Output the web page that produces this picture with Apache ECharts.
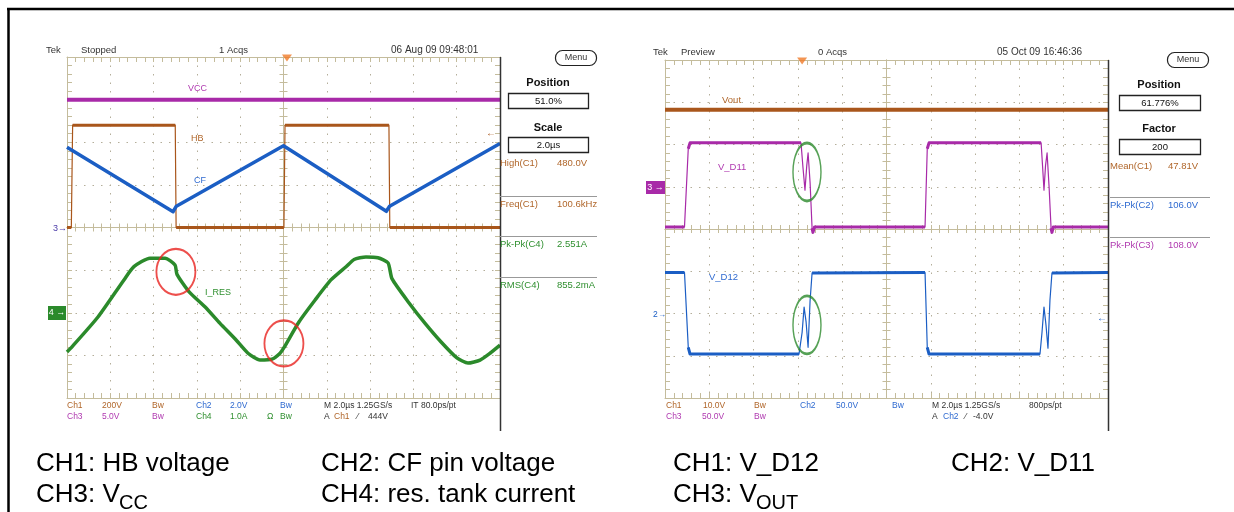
<!DOCTYPE html>
<html>
<head>
<meta charset="utf-8">
<script src="https://cdn.jsdelivr.net/npm/echarts@6.0.0/dist/echarts.min.js"></script>
<style>
html,body{margin:0;padding:0;background:#ffffff;}
#chart{width:1234px;height:512px;}
</style>
</head>
<body>
<div id="chart"></div>
<script>
// ===== Data: time in µs relative to screen centre (2 µs/div), amplitude in divisions =====
// ---- Left scope: HB, CF, VCC, I_RES ----
const vccTrace  = [[-10, 3.0], [10, 3.0]];
const hbTrace   = [[-10, 0], [-9.8, 0], [-9.74, 2.4], [-5.0, 2.4], [-4.96, 0], [0.02, 0], [0.07, 2.4], [4.87, 2.4], [4.91, 0], [10, 0]];
const cfTrace   = [[-10, 1.88], [-5.1, 0.37], [-4.95, 0.5], [0.0, 1.92], [4.75, 0.38], [4.9, 0.5], [10, 1.97]];
const iresTrace = [[-10, -2.92], [-9.77, -2.8], [-8.57, -2.1], [-7.37, -1.23], [-6.91, -0.92], [-6.17, -0.72], [-5.47, -0.72],
                   [-5.01, -0.88], [-4.92, -1.1], [-4.36, -1.51], [-3.63, -1.86], [-2.93, -2.25], [-2.19, -2.64], [-1.64, -2.95],
                   [-1.09, -3.11], [-0.53, -3.09], [-0.16, -2.95], [0.02, -2.82], [0.72, -2.21], [1.46, -1.7], [2.19, -1.23],
                   [2.89, -0.92], [3.26, -0.75], [3.81, -0.69], [4.36, -0.71], [4.83, -0.83], [5.01, -1.2], [5.8, -1.77],
                   [6.54, -2.25], [7.27, -2.68], [8.01, -3.06], [8.52, -3.18], [9.08, -3.11], [9.54, -2.95], [10, -2.76]];
const leftCircles = [[-4.97, -1.04], [0.02, -2.72]];
const leftTrigger = [[0.16, 4]];

// ---- Right scope: Vout, V_D11, V_D12 ----
const voutTrace = [[-10, 2.82], [10, 2.82]];
const vd11Trace = [[-10, 0.05], [-9.12, 0.05], [-8.95, 1.9], [-8.87, 2.04], [-3.86, 2.04], [-3.77, 1.45], [-3.68, 0.92], [-3.6, 1.5],
                   [-3.54, 1.8], [-3.45, 1.1], [-3.36, 0.02], [-3.32, -0.08], [-3.25, 0.05], [1.74, 0.05], [1.84, 1.9], [1.92, 2.04],
                   [6.98, 2.04], [7.05, 1.45], [7.11, 0.92], [7.18, 1.5], [7.25, 1.8], [7.34, 1.0], [7.43, 0.02], [7.47, -0.08],
                   [7.53, 0.05], [10, 0.05]];
const vd12Trace = [[-10, -1.03], [-9.12, -1.03], [-8.95, -2.8], [-8.87, -2.96], [-3.95, -2.96], [-3.81, -2.45], [-3.72, -1.85],
                   [-3.63, -2.2], [-3.54, -2.8], [-3.45, -1.7], [-3.36, -1.04], [1.74, -1.03], [1.84, -2.8], [1.92, -2.96],
                   [6.93, -2.96], [7.02, -2.45], [7.11, -1.85], [7.2, -2.27], [7.29, -2.82], [7.38, -1.68], [7.47, -1.04], [10, -1.03]];
const rightCircles = [[-3.59, 1.35], [-3.59, -2.27]];
const rightTrigger = [[-3.81, 4]];

// ---- Texts ----
const leftHeader  = ['Tek', 'Stopped', '1 Acqs', '06 Aug 09 09:48:01'];
const rightHeader = ['Tek', 'Preview', '0 Acqs', '05 Oct 09 16:46:36'];
const leftMeas  = [['High(C1)', '480.0V'], ['Freq(C1)', '100.6kHz'], ['Pk-Pk(C4)', '2.551A'], ['RMS(C4)', '855.2mA']];
const rightMeas = [['Mean(C1)', '47.81V'], ['Pk-Pk(C2)', '106.0V'], ['Pk-Pk(C3)', '108.0V']];

// ===== Styling =====
const FONT = 'Liberation Sans, Arial, sans-serif';
const GRAT = '#c4bc9c', DOT = '#b4ae9a';
const C_BROWN = '#a9561b', C_BLUE = '#1b5ec4', C_MAG = '#a82aa8', C_GREEN = '#2b8a2b';
const T_BROWN = '#b0662a', T_BLUE = '#2f6ad0', T_MAG = '#b03ab0', T_GREEN = '#2f8f2f', T_DARK = '#333333';

function flatParts(pts, maxSlope) {
  const out = [pts[0]];
  for (let i = 1; i < pts.length; i++) {
    const a = pts[i - 1], b = pts[i];
    const s = Math.abs(b[1] - a[1]) / Math.max(b[0] - a[0], 1e-9);
    if (s > maxSlope) out.push([(a[0] + b[0]) / 2, '-']);
    out.push(b);
  }
  return out;
}

function borderX(gi, pos, split) {
  return { gridIndex: gi, type: 'value', min: -10, max: 10, interval: 2, position: pos,
    axisLine: { show: true, onZero: false, lineStyle: { color: GRAT, width: 1 } },
    axisTick: { show: true, inside: true, length: 5, lineStyle: { color: GRAT } },
    minorTick: { show: true, splitNumber: 5, length: 5, lineStyle: { color: GRAT } },
    axisLabel: { show: false },
    splitLine: { show: split, lineStyle: { color: DOT, type: [1.5, 7], width: 1 } },
    minorSplitLine: { show: false } };
}
function centerX(gi, inside) {
  return { gridIndex: gi, type: 'value', min: -10, max: 10, interval: 2, position: 'bottom',
    axisLine: { show: true, onZero: true, lineStyle: { color: GRAT, width: 1 } },
    axisTick: { show: true, inside: inside, length: 4, lineStyle: { color: GRAT } },
    minorTick: { show: true, splitNumber: 5, length: 4, lineStyle: { color: GRAT } },
    axisLabel: { show: false }, splitLine: { show: false } };
}
function borderY(gi, pos, split) {
  return { gridIndex: gi, type: 'value', min: -4, max: 4, interval: 1, position: pos,
    axisLine: { show: true, onZero: false, lineStyle: { color: GRAT, width: 1 } },
    axisTick: { show: true, inside: true, length: 5, lineStyle: { color: GRAT } },
    minorTick: { show: true, splitNumber: 5, length: 5, lineStyle: { color: GRAT } },
    axisLabel: { show: false },
    splitLine: { show: split, lineStyle: { color: DOT, type: [1.5, 7], width: 1 } },
    minorSplitLine: { show: false } };
}
function centerY(gi, inside) {
  return { gridIndex: gi, type: 'value', min: -4, max: 4, interval: 1, position: 'left',
    axisLine: { show: true, onZero: true, lineStyle: { color: GRAT, width: 1 } },
    axisTick: { show: true, inside: inside, length: 4, lineStyle: { color: GRAT } },
    minorTick: { show: true, splitNumber: 5, length: 4, lineStyle: { color: GRAT } },
    axisLabel: { show: false }, splitLine: { show: false } };
}

function line(xi, data, color, width, z) {
  return { type: 'line', xAxisIndex: xi, yAxisIndex: xi, data: data, symbol: 'none', showSymbol: false,
    lineStyle: { color: color, width: width, join: 'round' }, z: z || 3, silent: true, connectNulls: false };
}
function smoothLine(xi, data, color, width) {
  const s = line(xi, data, color, width);
  s.smooth = 0.2;
  return s;
}
function ellipses(xi, data, color, size) {
  return { type: 'scatter', xAxisIndex: xi, yAxisIndex: xi, data: data, symbol: 'circle', symbolSize: size,
    itemStyle: { color: 'rgba(0,0,0,0)', borderColor: color, borderWidth: 2 }, z: 6, silent: true, clip: false };
}
function trig(xi, data) {
  return { type: 'scatter', xAxisIndex: xi, yAxisIndex: xi, data: data, symbol: 'triangle', symbolRotate: 180,
    symbolSize: [10, 7], symbolOffset: [0, 1], itemStyle: { color: '#f07a28' }, z: 6, silent: true, clip: false };
}

// ===== graphic helpers =====
function T(x, y, s, color, size, opt) {
  opt = opt || {};
  return { type: 'text', x: x, y: y, silent: true, z: 10,
    style: { text: s, fill: color, fontSize: size, fontFamily: FONT, fontWeight: opt.bold ? 'bold' : 'normal',
      align: opt.align || 'left', verticalAlign: 'middle', textAlign: opt.align || 'left', textVerticalAlign: 'middle' } };
}
function R(x, y, w, h, stroke, fill, lw, r) {
  return { type: 'rect', silent: true, z: 9, shape: { x: x, y: y, width: w, height: h, r: r || 0 },
    style: { stroke: stroke, fill: fill, lineWidth: lw } };
}
function L(x1, y1, x2, y2, stroke, lw) {
  return { type: 'line', silent: true, z: 9, shape: { x1: x1, y1: y1, x2: x2, y2: y2 }, style: { stroke: stroke, lineWidth: lw } };
}

const G = [];
// frame
G.push(L(7, 9, 1234, 9, '#000', 2.5));
G.push(L(8.5, 8, 8.5, 512, '#000', 2.5));
// scope right borders
G.push(L(500.5, 57, 500.5, 431, '#333', 1.5));
G.push(L(1108.5, 60, 1108.5, 431, '#333', 1.5));

// --- left scope header
G.push(T(46, 50, leftHeader[0], T_DARK, 9.5));
G.push(T(81, 50, leftHeader[1], T_DARK, 9.5));
G.push(T(219, 50, leftHeader[2], T_DARK, 9.5));
G.push(T(391, 50, leftHeader[3], T_DARK, 10));
// --- right scope header
G.push(T(653, 52, rightHeader[0], T_DARK, 9.5));
G.push(T(681, 52, rightHeader[1], T_DARK, 9.5));
G.push(T(818, 52, rightHeader[2], T_DARK, 9.5));
G.push(T(997, 52, rightHeader[3], T_DARK, 10));

// --- left side panel
G.push(R(555.5, 50.5, 41, 15, '#222', '#fff', 1.2, 7));
G.push(T(576, 58, 'Menu', T_DARK, 9, { align: 'center' }));
G.push(T(548, 83, 'Position', '#111', 11, { bold: true, align: 'center' }));
G.push(R(508.5, 93.5, 80, 15, '#222', '#fff', 1.3));
G.push(T(548.5, 101, '51.0%', '#111', 9.5, { align: 'center' }));
G.push(T(548, 128, 'Scale', '#111', 11, { bold: true, align: 'center' }));
G.push(R(508.5, 137.5, 80, 15, '#222', '#fff', 1.3));
G.push(T(548.5, 145, '2.0µs', '#111', 9.5, { align: 'center' }));
const lmY = [163, 204, 244, 285], lmC = [T_BROWN, T_BROWN, T_GREEN, T_GREEN];
leftMeas.forEach(function (m, i) {
  G.push(T(500, lmY[i], m[0], lmC[i], 9.5));
  G.push(T(557, lmY[i], m[1], lmC[i], 9.5));
});
[196.5, 236.5, 277.5].forEach(function (y) { G.push(L(500, y, 597, y, '#999', 1)); });

// --- right side panel
G.push(R(1167.5, 52.5, 41, 15, '#222', '#fff', 1.2, 7));
G.push(T(1188, 60, 'Menu', T_DARK, 9, { align: 'center' }));
G.push(T(1159, 85, 'Position', '#111', 11, { bold: true, align: 'center' }));
G.push(R(1119.5, 95.5, 81, 15, '#222', '#fff', 1.3));
G.push(T(1160, 103, '61.776%', '#111', 9.5, { align: 'center' }));
G.push(T(1159, 129, 'Factor', '#111', 11, { bold: true, align: 'center' }));
G.push(R(1119.5, 139.5, 81, 15, '#222', '#fff', 1.3));
G.push(T(1160, 147, '200', '#111', 9.5, { align: 'center' }));
const rmY = [166, 205, 245], rmC = [T_BROWN, T_BLUE, T_MAG];
rightMeas.forEach(function (m, i) {
  G.push(T(1110, rmY[i], m[0], rmC[i], 9.5));
  G.push(T(1168, rmY[i], m[1], rmC[i], 9.5));
});
[197.5, 237.5].forEach(function (y) { G.push(L(1110, y, 1210, y, '#999', 1)); });

// --- trace labels
G.push(T(188, 89, 'VCC', T_MAG, 9));
G.push(T(191, 139, 'HB', T_BROWN, 9));
G.push(T(194, 181, 'CF', T_BLUE, 9));
G.push(T(205, 293, 'I_RES', T_GREEN, 9));
G.push(T(722, 100, 'Vout', T_BROWN, 9.5));
G.push(T(718, 167, 'V_D11', T_MAG, 9.5));
G.push(T(709, 277, 'V_D12', T_BLUE, 9.5));

// --- channel markers
G.push(T(53, 229, '3', '#4a3aa8', 9));
G.push(T(58, 229, '→', '#4a3aa8', 9));
G.push(R(48, 306, 18, 14, null, C_GREEN, 0));
G.push(T(57, 313, '4 →', '#fff', 9, { align: 'center' }));
G.push(T(486, 133, '←', C_BROWN, 10));
G.push(R(646, 181, 19, 13, null, C_MAG, 0));
G.push(T(655.5, 187.5, '3 →', '#fff', 9, { align: 'center' }));
G.push(T(653, 315, '2', C_BLUE, 8.5));
G.push(T(658, 315, '→', C_BLUE, 8));
G.push(T(1097, 318, '←', C_BLUE, 10));

// --- left status lines
function st(x, y, s, c) { G.push(T(x, y, s, c, 8.5)); }
st(67, 406, 'Ch1', T_BROWN); st(102, 406, '200V', T_BROWN); st(152, 406, 'Bw', T_BROWN);
st(196, 406, 'Ch2', T_BLUE); st(230, 406, '2.0V', T_BLUE); st(280, 406, 'Bw', T_BLUE);
st(324, 406, 'M 2.0µs 1.25GS/s', T_DARK); st(411, 406, 'IT 80.0ps/pt', T_DARK);
st(67, 417, 'Ch3', T_MAG); st(102, 417, '5.0V', T_MAG); st(152, 417, 'Bw', T_MAG);
st(196, 417, 'Ch4', T_GREEN); st(230, 417, '1.0A', T_GREEN); st(267, 417, 'Ω', T_GREEN); st(280, 417, 'Bw', T_GREEN);
st(324, 417, 'A', T_DARK); st(334, 417, 'Ch1', T_BROWN); st(357, 417, '⁄', T_DARK); st(368, 417, '444V', T_DARK);
// --- right status lines
st(666, 406, 'Ch1', T_BROWN); st(703, 406, '10.0V', T_BROWN); st(754, 406, 'Bw', T_BROWN);
st(800, 406, 'Ch2', T_BLUE); st(836, 406, '50.0V', T_BLUE); st(892, 406, 'Bw', T_BLUE);
st(932, 406, 'M 2.0µs 1.25GS/s', T_DARK); st(1029, 406, '800ps/pt', T_DARK);
st(666, 417, 'Ch3', T_MAG); st(702, 417, '50.0V', T_MAG); st(754, 417, 'Bw', T_MAG);
st(932, 417, 'A', T_DARK); st(943, 417, 'Ch2', T_BLUE); st(965, 417, '⁄', T_DARK); st(973, 417, '-4.0V', T_DARK);

// --- captions
const CAP = 26, SUB = 20;
G.push(T(36, 464, 'CH1: HB voltage', '#000', CAP));
G.push(T(321, 464, 'CH2: CF pin voltage', '#000', CAP));
G.push(T(36, 495, 'CH3: V', '#000', CAP));
G.push(T(119, 503, 'CC', '#000', SUB));
G.push(T(321, 495, 'CH4: res. tank current', '#000', CAP));
G.push(T(673, 464, 'CH1: V_D12', '#000', CAP));
G.push(T(951, 464, 'CH2: V_D11', '#000', CAP));
G.push(T(673, 495, 'CH3: V', '#000', CAP));
G.push(T(756, 503, 'OUT', '#000', SUB));

const option = {
  animation: false,
  backgroundColor: '#ffffff',
  grid: [
    { left: 67, top: 57, width: 433, height: 341, show: false, containLabel: false, outerBoundsMode: 'none' },
    { left: 665, top: 60, width: 443, height: 338, show: false, containLabel: false, outerBoundsMode: 'none' }
  ],
  xAxis: [
    borderX(0, 'bottom', true), borderX(0, 'top', false), centerX(0, true), centerX(0, false),
    borderX(1, 'bottom', true), borderX(1, 'top', false), centerX(1, true), centerX(1, false)
  ],
  yAxis: [
    borderY(0, 'left', true), borderY(0, 'right', false), centerY(0, true), centerY(0, false),
    borderY(1, 'left', true), borderY(1, 'right', false), centerY(1, true), centerY(1, false)
  ],
  series: [
    line(0, vccTrace, C_MAG, 4),
    line(0, hbTrace, C_BROWN, 1.2),
    line(0, flatParts(hbTrace, 3), C_BROWN, 3),
    line(0, cfTrace, C_BLUE, 3.5, 4),
    smoothLine(0, iresTrace, C_GREEN, 3.5),
    ellipses(0, leftCircles, '#e8231f', [39, 46]),
    trig(0, leftTrigger),

    line(4, voutTrace, C_BROWN, 4),
    line(4, vd11Trace, C_MAG, 1.2),
    line(4, flatParts(vd11Trace, 3), C_MAG, 3),
    line(4, vd12Trace, C_BLUE, 1.2),
    line(4, flatParts(vd12Trace, 3), C_BLUE, 3),
    ellipses(4, rightCircles, '#2c8a2c', [28, 58]),
    trig(4, rightTrigger)
  ],
  graphic: { elements: G }
};

const chart = echarts.init(document.getElementById('chart'), null, { renderer: 'canvas' });
chart.setOption(option);
</script>
</body>
</html>
